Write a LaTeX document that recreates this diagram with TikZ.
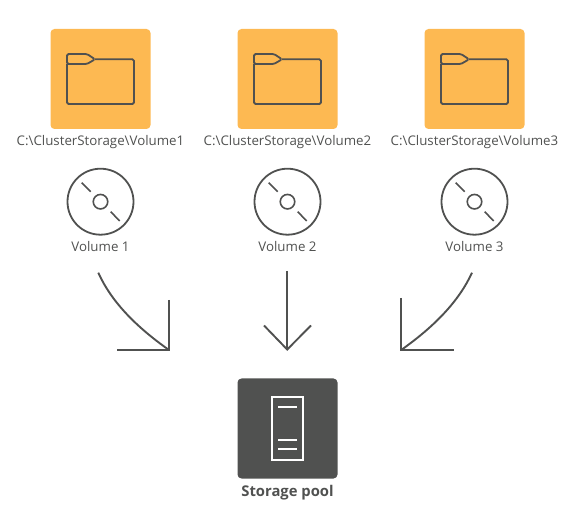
\documentclass[tikz,border=0pt]{standalone}
\usepackage{fontspec}
\setmainfont{Open Sans}
\definecolor{ink}{HTML}{505150}
\definecolor{tile}{HTML}{FDB952}
\tikzset{
  x=1pt,y=-1pt,
  tilebox/.style={minimum width=100pt,minimum height=100pt,rounded corners=4pt,inner sep=0pt,fill=#1},
  glyph/.style={draw=ink,line width=1.8pt},
  thin glyph/.style={draw=ink,line width=1.6pt},
  lbl/.style={text=ink,font=\fontsize{13.3}{15}\selectfont,inner sep=0pt,anchor=base},
  arrowline/.style={draw=ink,line width=1.9pt,line join=miter},
  whiteline/.style={draw=white,line width=1.6pt}
}
\newcommand{\volumegroup}[2]{%
  \begin{scope}[xshift=#1pt]
    \node[tilebox=tile] (tile#2) at (100.5,79) {};
    \draw[glyph,line join=round,rounded corners=1.5pt] (67,64) -- (67,104) -- (134,104) -- (134,59.3) -- (95,59.3);
    \draw[glyph,line join=round,rounded corners=1.5pt] (67,64) -- (67,54) -- (87,54) -- (95,59.3) -- (87,64) -- cycle;
    \node[lbl] (path#2) at (100.5,146) {C:\textbackslash ClusterStorage\textbackslash Volume#2};
    \node[circle,glyph,minimum size=66pt,inner sep=0pt] (disc#2) at (100.5,201.7) {};
    \node[circle,thin glyph,minimum size=14.5pt,inner sep=0pt] (hub#2) at (100.5,201.7) {};
    \draw[thin glyph] (disc#2.center) ++(-18.8,-19) -- ++(9,9);
    \draw[thin glyph] (disc#2.center) ++(10.2,10) -- ++(9,9.3);
    \node[lbl] (vol#2) at (100.5,251.5) {Volume #2};
  \end{scope}}
\begin{document}
\begin{tikzpicture}
\useasboundingbox (0,0) rectangle (576,521);
\volumegroup{0}{1}
\volumegroup{187}{2}
\volumegroup{374}{3}
% arrows
\coordinate (aS) at (98.3,272.7);
\coordinate (aT) at (169,350);
\coordinate (aA) at (169,300);
\coordinate (aB) at (117,350);
\draw[arrowline] (aS) .. controls (111,301) and (135,326) .. (aT);
\draw[arrowline] (aA) -- (aT) -- (aB);
\coordinate (bS) at (287.2,271);
\coordinate (bT) at (287.2,349.5);
\coordinate (bA) at (264,325.5);
\coordinate (bB) at (311,325.5);
\draw[arrowline] (bS) -- (bT);
\draw[arrowline] (bA) -- (bT) -- (bB);
\coordinate (cS) at (472,272.7);
\coordinate (cT) at (401.2,350);
\coordinate (cA) at (401.2,298);
\coordinate (cB) at (453.5,350);
\draw[arrowline] (cS) .. controls (459,301) and (435,326) .. (cT);
\draw[arrowline] (cA) -- (cT) -- (cB);
% storage
\node[tilebox=ink] (pool) at (287.5,428.5) {};
\node[draw=white,line width=1.7pt,minimum width=31.5pt,minimum height=63pt,inner sep=0pt] (unit) at (287.5,428.5) {};
\draw[whiteline] (278.3,407.3) -- (297,407.3);
\draw[whiteline] (278.3,440) -- (297,440);
\draw[whiteline] (278.3,448.7) -- (297,448.7);
\node[lbl,font=\fontsize{14.8}{16}\selectfont\bfseries] (poollabel) at (287.5,496) {Storage pool};
\end{tikzpicture}
\end{document}
